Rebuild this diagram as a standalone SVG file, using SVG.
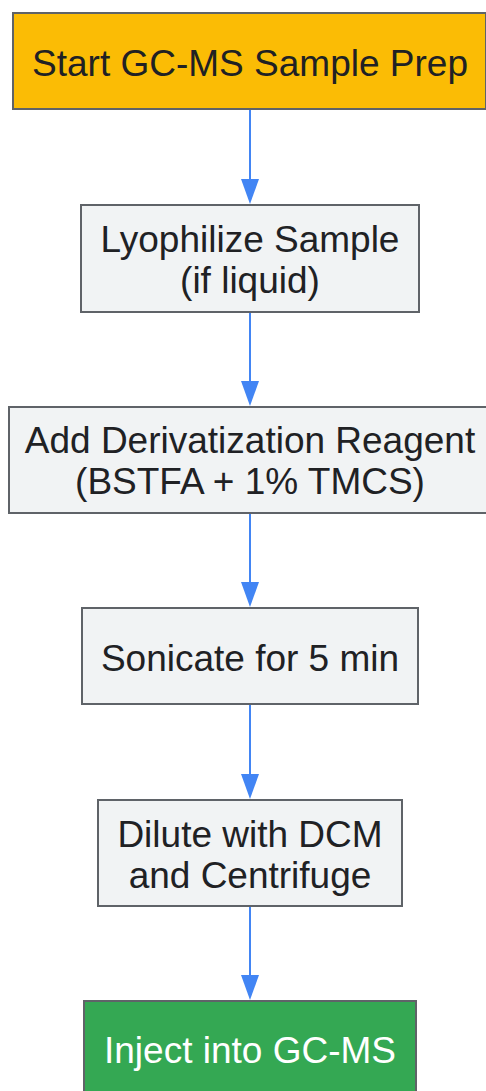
<svg xmlns="http://www.w3.org/2000/svg" width="486" height="1091" viewBox="0 0 486 1091">
<style>
.box{fill:#F1F3F4;stroke:#5F6368;stroke-width:2}
.start{fill:#FBBC05;stroke:#5F6368;stroke-width:2}
.end{fill:#34A853;stroke:#5F6368;stroke-width:2}
.lbl{font-family:"Liberation Sans",Arial,sans-serif;font-size:37px;fill:#202124;text-anchor:middle}
.lblw{font-family:"Liberation Sans",Arial,sans-serif;font-size:37px;fill:#FFFFFF;text-anchor:middle}
.edge{stroke:#4285F4;stroke-width:2;fill:none}
</style>
<defs>
<marker id="arr" markerUnits="userSpaceOnUse" markerWidth="26" markerHeight="20" refX="0" refY="9" orient="auto">
<path d="M0,0 L25,9 L0,18 Z" fill="#4285F4"/>
</marker>
</defs>
<rect width="486" height="1091" fill="#FFFFFF"/>
<g id="connectors">
<line class="edge" x1="250" y1="110" x2="250" y2="179" marker-end="url(#arr)"/>
<line class="edge" x1="250" y1="313" x2="250" y2="381" marker-end="url(#arr)"/>
<line class="edge" x1="250" y1="514" x2="250" y2="582" marker-end="url(#arr)"/>
<line class="edge" x1="250" y1="705" x2="250" y2="774" marker-end="url(#arr)"/>
<line class="edge" x1="250" y1="907" x2="250" y2="975" marker-end="url(#arr)"/>
</g>
<g id="start">
<rect class="start" x="13" y="13" width="473" height="96"/>
<text class="lbl" x="250" y="76">Start GC-MS Sample Prep</text>
</g>
<g id="lyophilize">
<rect class="box" x="81" y="205" width="338" height="107"/>
<text class="lbl" x="250" y="252">Lyophilize Sample</text>
<text class="lbl" x="250" y="293">(if liquid)</text>
</g>
<g id="derivatize">
<rect class="box" x="9" y="407" width="482" height="106"/>
<text class="lbl" x="250" y="453">Add Derivatization Reagent</text>
<text class="lbl" x="250" y="494">(BSTFA + 1% TMCS)</text>
</g>
<g id="sonicate">
<rect class="box" x="82" y="608" width="336" height="96"/>
<text class="lbl" x="250" y="671">Sonicate for 5 min</text>
</g>
<g id="dilute">
<rect class="box" x="98" y="800" width="304" height="106"/>
<text class="lbl" x="250" y="847">Dilute with DCM</text>
<text class="lbl" x="250" y="888">and Centrifuge</text>
</g>
<g id="inject">
<rect class="end" x="84" y="1001" width="332" height="96"/>
<text class="lblw" x="250" y="1063">Inject into GC-MS</text>
</g>
</svg>
